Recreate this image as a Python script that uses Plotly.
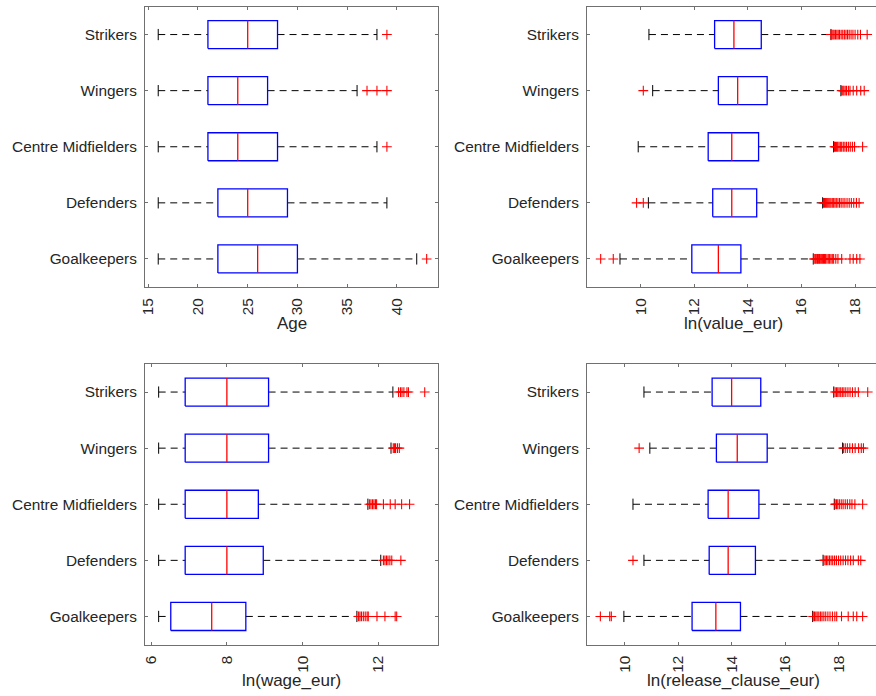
import plotly.graph_objects as go

W, H = 876, 696

# Categories (bottom to top)
categories = ["Goalkeepers", "Defenders", "Centre Midfielders", "Wingers", "Strikers"]

# ---- Age ----
age_low = [16, 16, 16, 16, 16]
age_q1 = [22, 22, 21, 21, 21]
age_med = [26, 25, 24, 24, 25]
age_q3 = [30, 29, 28, 27, 28]
age_high = [42, 39, 38, 36, 38]
age_out = [[43], [], [39], [37, 38, 39], [39]]

# ---- ln(value_eur) ----
val_low = [9.23, 10.29, 9.91, 10.45, 10.31]
val_q1 = [11.91, 12.69, 12.52, 12.90, 12.76]
val_med = [12.90, 13.40, 13.40, 13.62, 13.48]
val_q3 = [13.74, 14.33, 14.40, 14.72, 14.50]
val_high = [16.44, 16.79, 17.20, 17.47, 17.10]
val_out = [
    [8.51, 8.98, 16.46, 16.5, 16.53, 16.57, 16.6, 16.63, 16.67, 16.7, 16.74, 16.78,
     16.82, 16.86, 16.9, 16.95, 17.0, 17.05, 17.1, 17.15, 17.2, 17.28, 17.36, 17.5,
     17.81, 17.93, 18.06, 18.18],
    [9.85, 10.1, 16.82, 16.86, 16.9, 16.94, 16.98, 17.02, 17.06, 17.1, 17.15, 17.2,
     17.25, 17.3, 17.36, 17.42, 17.48, 17.55, 17.62, 17.7, 17.78, 17.86, 17.95, 18.05,
     18.15],
    [17.23, 17.27, 17.31, 17.35, 17.4, 17.45, 17.5, 17.56, 17.62, 17.68, 17.75, 17.82,
     17.9, 17.98, 18.28],
    [10.1, 17.5, 17.54, 17.58, 17.63, 17.68, 17.75, 17.81, 17.93, 18.06, 18.21, 18.34],
    [17.1, 17.14, 17.18, 17.22, 17.27, 17.32, 17.37, 17.42, 17.48, 17.54, 17.6, 17.66,
     17.72, 17.78, 17.85, 17.92, 18.0, 18.1, 18.2, 18.45],
]

# ---- ln(wage_eur) ----
wage_low = [6.2, 6.2, 6.2, 6.2, 6.2]
wage_q1 = [6.52, 6.9, 6.9, 6.9, 6.9]
wage_med = [7.6, 8.0, 8.0, 8.0, 8.0]
wage_q3 = [8.50, 8.96, 8.83, 9.10, 9.10]
wage_high = [11.43, 12.06, 11.72, 12.33, 12.38]
wage_out = [
    [11.47, 11.51, 11.55, 11.6, 11.65, 11.7, 11.73, 11.96, 12.17, 12.44, 12.48],
    [12.13, 12.17, 12.21, 12.25, 12.3, 12.35, 12.59],
    [11.76, 11.8, 11.84, 11.88, 11.92, 11.95, 12.13, 12.31, 12.44, 12.61, 12.82],
    [12.39, 12.42, 12.45, 12.5, 12.55],
    [12.53, 12.58, 12.62, 12.67, 12.75, 12.79, 13.22],
]

# ---- ln(release_clause_eur) ----
rel_low = [9.97, 10.72, 10.31, 10.94, 10.72]
rel_q1 = [12.52, 13.16, 13.12, 13.43, 13.27]
rel_med = [13.41, 13.87, 13.87, 14.21, 14.0]
rel_q3 = [14.33, 14.89, 15.02, 15.33, 15.09]
rel_high = [17.03, 17.42, 17.84, 18.15, 17.82]
rel_out = [
    [9.09, 9.44, 9.5, 17.05, 17.1, 17.15, 17.2, 17.26, 17.32, 17.38, 17.45, 17.52,
     17.6, 17.68, 17.77, 17.86, 17.93, 18.11, 18.36, 18.55, 18.68, 18.9],
    [10.31, 17.45, 17.5, 17.55, 17.6, 17.66, 17.72, 17.78, 17.85, 17.92, 18.0, 18.08,
     18.17, 18.26, 18.35, 18.45, 18.55, 18.74, 18.83],
    [17.87, 17.92, 17.97, 18.03, 18.1, 18.17, 18.25, 18.33, 18.42, 18.5, 18.61, 18.9],
    [10.54, 18.18, 18.25, 18.33, 18.42, 18.52, 18.62, 18.75, 18.85, 18.93],
    [17.87, 17.92, 17.97, 18.02, 18.08, 18.14, 18.2, 18.27, 18.35, 18.43, 18.52,
     18.62, 18.74, 19.09],
]

panels = [
    dict(low=age_low, q1=age_q1, med=age_med, q3=age_q3, high=age_high, out=age_out,
         title="Age", ticks=[15, 20, 25, 30, 35, 40], rng=[14.67, 44.14],
         xd=[145, 438], yd=[6.5, 287]),
    dict(low=val_low, q1=val_q1, med=val_med, q3=val_q3, high=val_high, out=val_out,
         title="ln(value_eur)", ticks=[10, 12, 14, 16, 18], rng=[8.0, 18.78],
         xd=[587, 876], yd=[6.5, 287]),
    dict(low=wage_low, q1=wage_q1, med=wage_med, q3=wage_q3, high=wage_high, out=wage_out,
         title="ln(wage_eur)", ticks=[6, 8, 10, 12], rng=[5.84, 13.57],
         xd=[145, 438], yd=[364, 644.5]),
    dict(low=rel_low, q1=rel_q1, med=rel_med, q3=rel_q3, high=rel_high, out=rel_out,
         title="ln(release_clause_eur)", ticks=[10, 12, 14, 16, 18], rng=[8.59, 19.40],
         xd=[587, 876], yd=[364, 644.5]),
]

BOX_HALF = 0.25
CAP_HALF = 0.1
TXT = "#262626"
AX = "#707070"
FONT = "Liberation Sans, Arial, Helvetica, sans-serif"

fig = go.Figure()
layout = {}
annotations = []

for i, p in enumerate(panels):
    n = i + 1
    xa = "x" if n == 1 else f"x{n}"
    ya = "y" if n == 1 else f"y{n}"
    bx, by, mx, my, wx, wy, cx, cy, ox, oy = [], [], [], [], [], [], [], [], [], []
    for k in range(len(categories)):
        c = k + 1
        q1, q3, md, lo, hi = p["q1"][k], p["q3"][k], p["med"][k], p["low"][k], p["high"][k]
        bx += [q1, q3, q3, q1, q1, None]
        by += [c - BOX_HALF, c - BOX_HALF, c + BOX_HALF, c + BOX_HALF, c - BOX_HALF, None]
        mx += [md, md, None]
        my += [c - BOX_HALF, c + BOX_HALF, None]
        wx += [lo, q1, None, q3, hi, None]
        wy += [c, c, None, c, c, None]
        cx += [lo, lo, None, hi, hi, None]
        cy += [c - CAP_HALF, c + CAP_HALF, None, c - CAP_HALF, c + CAP_HALF, None]
        for v in p["out"][k]:
            ox.append(v)
            oy.append(c)
    common = dict(xaxis=xa, yaxis=ya, showlegend=False, hoverinfo="skip")
    fig.add_trace(go.Scatter(x=wx, y=wy, mode="lines",
                             line=dict(color="black", width=1, dash="7px,5px"), **common))
    fig.add_trace(go.Scatter(x=cx, y=cy, mode="lines",
                             line=dict(color="black", width=1), **common))
    fig.add_trace(go.Scatter(x=bx, y=by, mode="lines",
                             line=dict(color="#0000FF", width=1.3), **common))
    fig.add_trace(go.Scatter(x=mx, y=my, mode="lines",
                             line=dict(color="#FF0000", width=1.3), **common))
    fig.add_trace(go.Scatter(x=ox, y=oy, mode="markers",
                             marker=dict(symbol="cross-thin", size=7,
                                         line=dict(color="#FF0000", width=1.1)),
                             **common))

    right_col = (n % 2 == 0)
    layout["xaxis" if n == 1 else f"xaxis{n}"] = dict(
        domain=[p["xd"][0] / W, p["xd"][1] / W],
        range=p["rng"], tickvals=p["ticks"], ticktext=[str(t) for t in p["ticks"]],
        ticks="inside", ticklen=3, tickcolor=AX, showline=True, linecolor=AX,
        linewidth=1, mirror="ticks", showgrid=False, zeroline=False,
        tickangle=-90, tickfont=dict(size=15.4, color=TXT, family=FONT),
        anchor=ya, ticklabelstandoff=4, automargin=False,
    )
    layout["yaxis" if n == 1 else f"yaxis{n}"] = dict(
        domain=[1 - p["yd"][1] / H, 1 - p["yd"][0] / H],
        range=[0.5, 5.5], tickvals=[1, 2, 3, 4, 5], ticktext=categories,
        ticks="inside", ticklen=3, tickcolor=AX, showline=True, linecolor=AX,
        linewidth=1, mirror=(False if right_col else "ticks"),
        showgrid=False, zeroline=False,
        tickfont=dict(size=15.4, color=TXT, family=FONT),
        anchor=xa, ticklabelstandoff=4, automargin=False,
    )
    xc = (p["xd"][0] + p["xd"][1]) / 2
    if right_col:
        xc = (587 + 880) / 2
    annotations.append(dict(
        text=p["title"], xref="paper", yref="paper",
        x=xc / W, y=1 - (p["yd"][1] + 36) / H,
        xanchor="center", yanchor="middle", showarrow=False,
        font=dict(size=17, color=TXT, family=FONT),
    ))

fig.update_layout(
    width=W, height=H,
    margin=dict(l=0, r=0, t=0, b=0, autoexpand=False),
    paper_bgcolor="white", plot_bgcolor="white",
    annotations=annotations,
    **layout,
)

fig.write_html(
    "out.html",
    config={"displayModeBar": False},
    post_script="document.body.style.margin='0px';document.body.style.padding='0px';",
)
